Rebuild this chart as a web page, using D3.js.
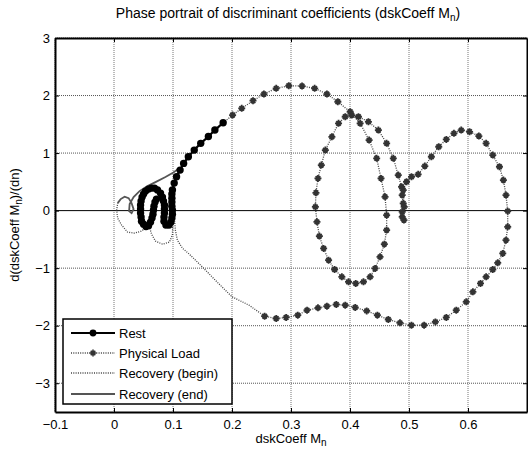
<!DOCTYPE html>
<html><head><meta charset="utf-8">
<script src="https://cdn.jsdelivr.net/npm/d3@7"></script>
<style>
body{margin:0;background:#fff;}
text{font-family:"Liberation Sans",Arial,sans-serif;fill:#000;}
</style></head><body>
<svg id="chart" width="528" height="453"></svg>
<script>
// ---- data ----
const xTicks = [-0.1, 0, 0.1, 0.2, 0.3, 0.4, 0.5, 0.6];
const yTicks = [-3, -2, -1, 0, 1, 2, 3];
const seriesNames = ["Rest", "Physical Load", "Recovery (begin)", "Recovery (end)"];

const restX = [0.185,0.171,0.160,0.147,0.136,0.126,0.118,0.112,0.106,0.102,0.099,
  0.0981,0.0981,0.0981,0.0981,0.0990,0.0990,0.0981,0.0965,0.0931,0.0880,0.0847,0.0847,0.0855,0.0855,0.0855,
  0.0838,0.0821,0.0788,0.0737,0.0686,0.0636,0.0585,0.0535,0.0501,0.0476,0.0459,0.0450,0.0450,0.0450,0.0459,
  0.0467,0.0501,0.0543,0.0585,0.0619,0.0644,0.0661,0.0669,0.0678,0.0695,0.0720];
const restY = [1.527,1.400,1.287,1.169,1.052,0.936,0.821,0.704,0.588,0.478,0.357,
  0.287,0.217,0.148,0.078,0.009,-0.061,-0.130,-0.200,-0.252,-0.252,-0.183,-0.113,-0.043,0.026,0.096,
  0.165,0.235,0.304,0.357,0.391,0.391,0.374,0.339,0.287,0.235,0.165,0.096,0.026,-0.043,-0.113,
  -0.183,-0.235,-0.278,-0.261,-0.200,-0.130,-0.061,0.009,0.078,0.148,0.200];

const loadX = [0.185,0.201,0.2165,0.2356,0.2541,0.2749,0.2963,0.3187,0.3401,0.3609,0.3794,0.4003,
  0.4172,0.4324,0.4452,0.4526,0.4594,0.4621,0.4621,0.4582,0.4509,0.4425,0.4341,0.4228,0.4098,0.3975,
  0.3862,0.3739,0.3637,0.3553,0.3481,0.3440,0.3413,0.3423,0.3457,0.3514,0.3582,0.3693,0.3806,0.3919,
  0.4030,0.4143,0.4312,0.4481,0.4621,0.4734,0.4818,0.4874,0.4885,0.4902,0.4885,0.4914,0.4885,0.4919,
  0.4902,0.4958,0.5042,0.5155,0.5268,0.5379,0.5504,0.5632,0.5762,0.5885,0.6027,0.6184,0.6307,0.6420,
  0.6533,0.6600,0.6644,0.6673,0.6673,0.6644,0.6589,0.6504,0.6420,0.6307,0.6212,0.6083,0.5970,0.5801,
  0.5632,0.5447,0.5256,0.5042,0.4847,0.4649,0.4464,0.4283,0.4088,0.3919,0.3767,0.3609,0.3457,0.3272,
  0.3115,0.2917,0.2749,0.2553];
const loadY = [1.527,1.661,1.777,1.910,2.026,2.125,2.170,2.165,2.125,2.026,1.892,1.718,
  1.517,1.226,0.908,0.560,0.240,-0.078,-0.339,-0.583,-0.803,-1.005,-1.151,-1.238,-1.266,-1.238,
  -1.151,-1.023,-0.861,-0.657,-0.443,-0.195,0.066,0.310,0.560,0.791,1.052,1.283,1.517,1.631,
  1.661,1.631,1.544,1.400,1.169,0.908,0.617,0.414,0.270,0.125,-0.021,-0.165,-0.108,0.066,
  0.357,0.501,0.588,0.630,0.774,0.936,1.110,1.238,1.343,1.400,1.370,1.296,1.169,0.965,
  0.762,0.530,0.270,-0.009,-0.282,-0.513,-0.744,-0.908,-1.023,-1.151,-1.266,-1.412,-1.586,-1.730,
  -1.857,-1.934,-1.991,-1.991,-1.951,-1.892,-1.817,-1.743,-1.683,-1.643,-1.631,-1.661,-1.690,-1.730,
  -1.817,-1.857,-1.875,-1.835];

const recBeginX = [0.2553,0.2288,0.2002,0.1749,0.1496,0.1277,0.1159,0.1074,0.1040,0.1024,0.1024,0.1015,
  0.0998,0.0998,0.0990,0.0939,0.0821,0.0703,0.0636,0.0602,0.0535,0.0462,0.0349,0.0231,0.0130,0.0062,
  0.0046,0.0062];
const recBeginY = [-1.835,-1.643,-1.499,-1.243,-0.977,-0.757,-0.652,-0.513,-0.339,-0.130,0.078,0.200,
  0.078,-0.165,-0.426,-0.548,-0.583,-0.530,-0.409,-0.287,-0.304,-0.357,-0.391,-0.374,-0.252,-0.130,
  0.009,0.130];

const recEndX = [0.0062,0.0113,0.0180,0.0248,0.0298,0.0332,0.0298,0.0256,0.0265,0.0332,0.0433,0.0568,
  0.0720,0.0872,0.1007,0.1108];
const recEndY = [0.130,0.200,0.243,0.217,0.130,0.026,-0.043,-0.009,0.113,0.235,0.339,0.426,
  0.504,0.583,0.661,0.739];

// ---- layout ----
const svg = d3.select("#chart");
const L = 55, R = 527, T = 38, B = 412;
const x = d3.scaleLinear().domain([-0.1, 0.7]).range([L, R]);
const y = d3.scaleLinear().domain([-3.5, 3]).range([B, T]);

// grid
const grid = svg.append("g");
grid.selectAll("line.vx").data(xTicks).join("line")
  .attr("x1", d => x(d)).attr("x2", d => x(d)).attr("y1", T).attr("y2", B)
  .attr("stroke", "#777").attr("stroke-width", 1).attr("stroke-dasharray", "1,1");
grid.selectAll("line.hy").data(yTicks).join("line")
  .attr("x1", L).attr("x2", R).attr("y1", d => y(d)).attr("y2", d => y(d))
  .attr("stroke", d => d === 0 ? "#000" : "#555").attr("stroke-width", 1)
  .attr("stroke-dasharray", d => d === 0 ? null : "1,1");

// axes
const fmt = d => d3.format("")(+d.toFixed(1));
const axB = svg.append("g").attr("transform", `translate(0,${B})`)
  .call(d3.axisBottom(x).tickValues(xTicks).tickSize(-4).tickSizeOuter(0).tickPadding(8).tickFormat(fmt));
const axT = svg.append("g").attr("transform", `translate(0,${T})`)
  .call(d3.axisTop(x).tickValues(xTicks).tickSize(-4).tickSizeOuter(0).tickFormat(""));
const axLft = svg.append("g").attr("transform", `translate(${L},0)`)
  .call(d3.axisLeft(y).tickValues(yTicks).tickSize(-4).tickSizeOuter(0).tickPadding(5).tickFormat(d3.format("d")));
const axR = svg.append("g").attr("transform", `translate(${R},0)`)
  .call(d3.axisRight(y).tickValues(yTicks).tickSize(-4).tickSizeOuter(0).tickFormat(""));
[axB, axT, axLft, axR].forEach(g => {
  g.select(".domain").attr("stroke", "#000").attr("stroke-width", 2);
  g.selectAll(".tick line").attr("stroke", "#000");
  g.selectAll("text").attr("font-size", 13).attr("font-family", "Liberation Sans, Arial, sans-serif").attr("fill", "#000");
});

// series
const line = d3.line().x(d => x(d[0])).y(d => y(d[1]));
const zip = (a, b) => a.map((v, i) => [v, b[i]]);
const recEnd = zip(recEndX, recEndY), recBegin = zip(recBeginX, recBeginY);
const load = zip(loadX, loadY), rest = zip(restX, restY);

svg.append("path").attr("d", line(recEnd)).attr("fill", "none")
  .attr("stroke", "#555").attr("stroke-width", 1.8);
svg.append("path").attr("d", line(recBegin)).attr("fill", "none")
  .attr("stroke", "#444").attr("stroke-width", 1.3).attr("stroke-dasharray", "1,1.3");
svg.append("path").attr("d", line(load)).attr("fill", "none")
  .attr("stroke", "#444").attr("stroke-width", 1.3).attr("stroke-dasharray", "1,1.3");

const star = "M-3.5,0H3.5M0,-3.5V3.5M-2.3,-2.3L2.3,2.3M-2.3,2.3L2.3,-2.3";
svg.append("g").selectAll("path").data(load.slice(1)).join("path")
  .attr("transform", d => `translate(${x(d[0])},${y(d[1])})`)
  .attr("d", star).attr("stroke", "#333").attr("stroke-width", 1.8).attr("fill", "none");

svg.append("path").attr("d", line(rest)).attr("fill", "none")
  .attr("stroke", "#000").attr("stroke-width", 2.2);
svg.append("g").selectAll("circle").data(rest).join("circle")
  .attr("cx", d => x(d[0])).attr("cy", d => y(d[1])).attr("r", 3.7).attr("fill", "#000");

// titles
const title = svg.append("text").attr("x", 288).attr("y", 18).attr("text-anchor", "middle").attr("font-size", 14);
title.append("tspan").text("Phase portrait of discriminant coefficients (dskCoeff M");
title.append("tspan").attr("dy", 3).attr("font-size", 10).text("n");
title.append("tspan").attr("dy", -3).text(")");

const xl = svg.append("text").attr("x", 291).attr("y", 443).attr("text-anchor", "middle").attr("font-size", 13);
xl.append("tspan").text("dskCoeff M");
xl.append("tspan").attr("dy", 3).attr("font-size", 10).text("n");

const yl = svg.append("text").attr("transform", `translate(19,${(T + B) / 2}) rotate(-90)`)
  .attr("text-anchor", "middle").attr("font-size", 13);
yl.append("tspan").text("d(dskCoeff M");
yl.append("tspan").attr("dy", 3).attr("font-size", 10).text("n");
yl.append("tspan").attr("dy", -3).text(")/(dn)");

// legend
const lg = svg.append("g");
lg.append("rect").attr("x", 63).attr("y", 319).attr("width", 169).attr("height", 85)
  .attr("fill", "#fff").attr("stroke", "#000").attr("stroke-width", 1.5);
const rowsY = [333, 353, 373, 394];
const rows = lg.selectAll("g.row").data(seriesNames).join("g")
  .attr("transform", (d, i) => `translate(0,${rowsY[i]})`);
rows.append("line").attr("x1", 71).attr("x2", 115).attr("y1", 0).attr("y2", 0)
  .attr("stroke", (d, i) => i === 0 ? "#000" : i === 3 ? "#555" : "#444")
  .attr("stroke-width", (d, i) => i === 0 ? 2.2 : i === 3 ? 1.8 : 1.3)
  .attr("stroke-dasharray", (d, i) => (i === 1 || i === 2) ? "1,1.3" : null);
rows.filter((d, i) => i === 0).append("circle").attr("cx", 93).attr("cy", 0).attr("r", 3.4).attr("fill", "#000");
rows.filter((d, i) => i === 1).append("path").attr("transform", "translate(93,0)")
  .attr("d", star).attr("stroke", "#333").attr("stroke-width", 1.6);
rows.append("text").attr("x", 119).attr("y", 0).attr("dy", "0.35em").attr("font-size", 13).text(d => d);
</script>
</body></html>
